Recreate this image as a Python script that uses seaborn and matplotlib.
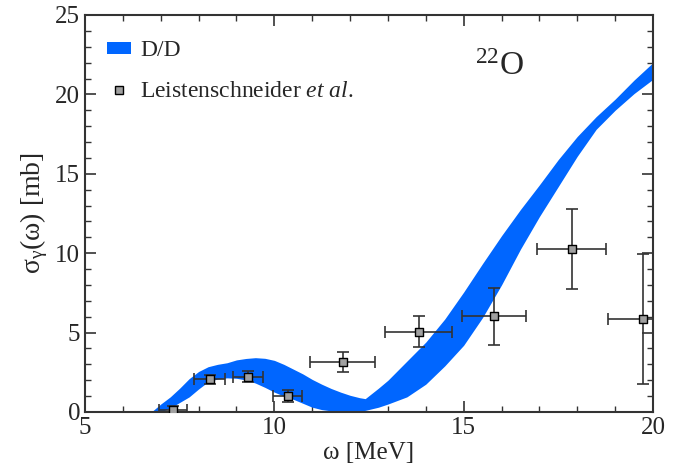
import numpy as np
import seaborn as sns
import matplotlib.pyplot as plt
from matplotlib.patches import Patch
from matplotlib.lines import Line2D
from matplotlib.ticker import MultipleLocator

# D/D band (lower / upper edge)
band_x = [6.75, 7.0, 7.25, 7.5, 7.75, 8.0, 8.25, 8.5, 8.75, 9.0, 9.25, 9.5, 9.75,
          10.0, 10.25, 10.5, 10.75, 11.0, 11.25, 11.5, 11.75, 12.0, 12.25, 12.4,
          12.75, 13.0, 13.5, 14.0, 14.5, 15.0, 15.5, 16.0, 16.5, 17.0, 17.5,
          18.0, 18.5, 19.0, 19.5, 20.0]
band_lo = [0.0, 0.0, 0.25, 0.6, 0.95, 1.45, 1.9, 2.08, 2.15, 2.12, 2.02, 1.82, 1.55,
           1.25, 1.0, 0.8, 0.55, 0.3, 0.15, 0.07, 0.03, 0.02, 0.05, 0.1,
           0.3, 0.5, 0.95, 1.75, 2.9, 4.2, 5.95, 8.0, 10.25, 12.3, 14.2,
           16.1, 17.8, 19.0, 20.05, 20.95]
band_hi = [0.0, 0.5, 0.95, 1.5, 2.1, 2.55, 2.85, 3.0, 3.1, 3.28, 3.37, 3.42, 3.38,
           3.25, 3.0, 2.7, 2.4, 2.05, 1.75, 1.48, 1.25, 1.05, 0.9, 0.84,
           1.5, 2.0, 3.2, 4.4, 5.85, 7.55, 9.35, 11.1, 12.75, 14.3, 15.9,
           17.35, 18.6, 19.7, 20.9, 22.0]

# Leistenschneider et al. data
exp_x = [7.32, 8.30, 9.30, 10.35, 11.81, 13.81, 15.80, 17.85, 19.74]
exp_y = [0.13, 2.06, 2.22, 1.03, 3.17, 5.06, 6.03, 10.26, 5.88]
exp_xerr = [0.36, 0.41, 0.40, 0.39, 0.86, 0.89, 0.84, 0.92, 0.92]
exp_yerr = [0.25, 0.30, 0.36, 0.38, 0.63, 0.99, 1.80, 2.50, 4.10]

sns.set_style('ticks')
plt.rcParams['font.family'] = ['Liberation Serif', 'DejaVu Serif']
plt.rcParams['mathtext.fontset'] = 'custom'
plt.rcParams['mathtext.rm'] = 'Liberation Serif'
plt.rcParams['mathtext.it'] = 'Liberation Serif:italic'

fig = plt.figure(figsize=(6.83, 4.76), dpi=100)
ax = fig.add_axes([0.1245, 0.1345, 0.8315, 0.834])

blue = '#0066ff'
ax.fill_between(band_x, band_lo, band_hi, color=blue, linewidth=0, zorder=1)

ax.errorbar(exp_x, exp_y, xerr=exp_xerr, yerr=exp_yerr, fmt='none',
            ecolor='#333333', elinewidth=1.2, capsize=4, capthick=1.2, zorder=2)
sns.scatterplot(x=exp_x, y=exp_y, marker='s', s=40, color='#a0a0a0',
                edgecolor='black', linewidth=1.0, zorder=3, ax=ax)

ax.set_xlim(5, 20)
ax.set_ylim(0, 25)
ax.xaxis.set_major_locator(MultipleLocator(5))
ax.xaxis.set_minor_locator(MultipleLocator(1))
ax.yaxis.set_major_locator(MultipleLocator(5))
ax.yaxis.set_minor_locator(MultipleLocator(1))
ax.tick_params(which='both', direction='in', top=True, right=True,
               color='#333333', labelsize=18)
ax.tick_params(which='major', length=8, width=1.2)
ax.tick_params(which='minor', length=4.5, width=1.0)
for sp in ax.spines.values():
    sp.set_linewidth(1.5)
    sp.set_color('#333333')
    sp.set_visible(True)

ax.set_xlabel('ω [MeV]', fontsize=18, labelpad=2)
ax.set_ylabel(r'σ$_{\mathrm{\gamma}}$(ω) [mb]', fontsize=20, labelpad=4)

ax.text(0.73, 0.87, r'$^{22}$O', transform=ax.transAxes, fontsize=24,
        ha='center', va='center')

handles = [Patch(facecolor=blue, edgecolor='none'),
           Line2D([], [], marker='s', linestyle='none', markersize=5.5,
                  markerfacecolor='#a0a0a0', markeredgecolor='black',
                  markeredgewidth=1.0)]
labels = ['D/D', r'Leistenschneider $\mathit{et\ al.}$']
ax.legend(handles, labels, loc='upper left', bbox_to_anchor=(0.022, 0.96),
          frameon=False, fontsize=17, handlelength=1.0, handleheight=0.45,
          handletextpad=0.4, labelspacing=0.85, borderaxespad=0)

fig.savefig('out.png', dpi=100)
